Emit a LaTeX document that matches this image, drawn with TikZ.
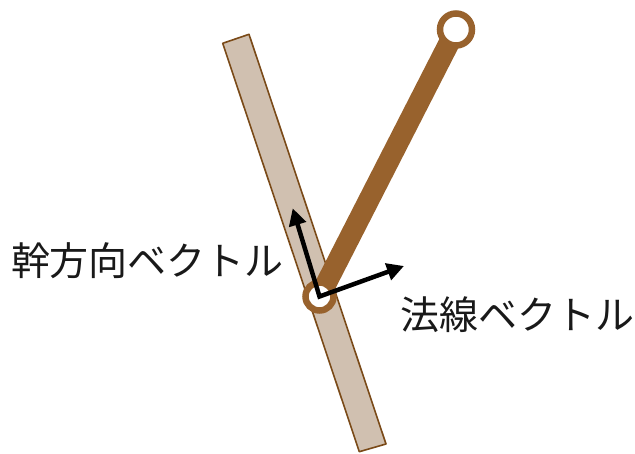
\documentclass[tikz,border=0pt]{standalone}
\usepackage{fontspec}
\newfontfamily\jp{Noto Sans CJK JP}
\usetikzlibrary{arrows.meta}
\definecolor{trunkfill}{RGB}{208,192,176}
\definecolor{trunkline}{RGB}{122,74,24}
\definecolor{branchc}{RGB}{152,98,45}
\tikzset{
  ring/.style={circle, draw=branchc, fill=white, inner sep=0pt},
  lbl/.style={font=\jp\fontsize{39}{42}\selectfont, inner sep=0pt, text=black!90},
  vec/.style={line width=4.5pt, black, {Triangle[length=17pt,width=17pt]}-{Triangle[length=17pt,width=17pt]}}
}
\begin{document}
\begin{tikzpicture}[x=1pt,y=-1pt]
\useasboundingbox (0,0) rectangle (635,454);
% trunk
\coordinate (t1) at (222.7,43.3);
\coordinate (t2) at (249,34.3);
\coordinate (t3) at (386,444);
\coordinate (t4) at (359.3,451.7);
\draw[trunkline, fill=trunkfill, line width=1.6pt, line join=round] (t1) -- (t2) -- (t3) -- (t4) -- cycle;
% branch
\coordinate (o) at (319.5,296.5);
\coordinate (tipc) at (456,29.5);
\draw[branchc, line width=21pt] (o) -- (tipc);
\node[ring, line width=6.5pt, minimum size=32pt] (tip) at (tipc) {};
\node[ring, line width=6.5pt, minimum size=28pt] (joint) at (o) {};
% vectors
\coordinate (up) at (292.7,208.3);
\coordinate (rt) at (404,266);
\draw[vec] (up) -- (o) -- (rt);
% labels
\node[lbl] (l1) at (147.5,261) {幹方向ベクトル};
\node[lbl] (l2) at (517.5,315) {法線ベクトル};
\end{tikzpicture}
\end{document}
